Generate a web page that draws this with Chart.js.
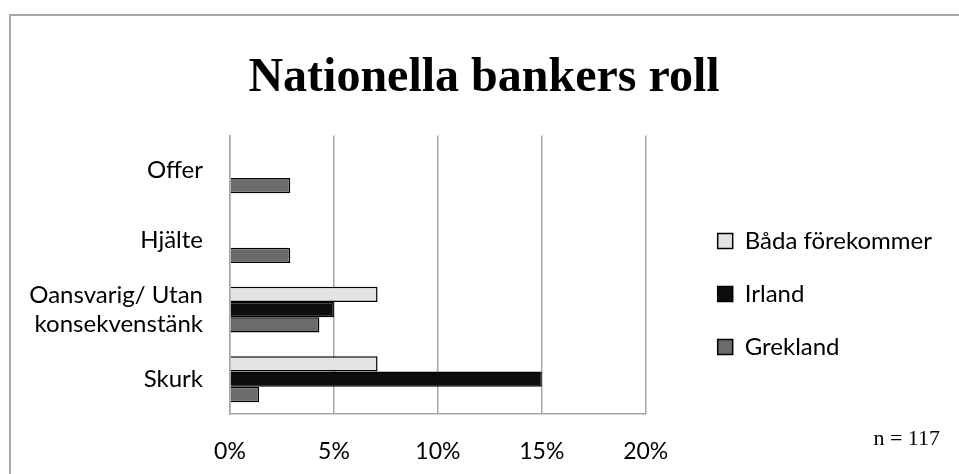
<!DOCTYPE html>
<html>
<head>
<meta charset="utf-8">
<script src="https://cdn.jsdelivr.net/npm/chart.js@4/dist/chart.umd.min.js"></script>
<style>
  body { margin: 0; background: #fff; }
  canvas { display: block; }
</style>
</head>
<body>
<canvas id="chart" width="959" height="474"></canvas>
<script>
const categories = ['Offer', 'Hjälte', ['Oansvarig/ Utan', 'konsekvenstänk'], 'Skurk'];
const seriesNames = ['Båda förekommer', 'Irland', 'Grekland'];
const badaValues = [0, 0, 7.1, 7.1];
const irlandValues = [0, 0, 5.0, 15.0];
const greklandValues = [2.9, 2.9, 4.3, 1.4];
const xTicks = [0, 5, 10, 15, 20];

// outer frame of the chart object and the "n = 117" note
const frame = {
    id: 'frame',
    afterDraw(chart) {
        const ctx = chart.ctx;
        ctx.save();
        ctx.strokeStyle = '#a6a6a6';
        ctx.lineWidth = 2;
        ctx.beginPath();
        ctx.moveTo(10, 480);
        ctx.lineTo(10, 15);
        ctx.lineTo(960, 15);
        ctx.stroke();
        ctx.fillStyle = '#000';
        ctx.font = '22px "Liberation Serif"';
        ctx.textAlign = 'right';
        ctx.textBaseline = 'alphabetic';
        ctx.fillText('n = 117', 940, 445);
        ctx.restore();
    }
};

function makeSet(label, data, color) {
    return {
        label: label,
        data: data,
        backgroundColor: color,
        borderColor: '#000',
        borderWidth: 1.5,
        borderSkipped: 'left',
        categoryPercentage: 0.66,
        barPercentage: 1.0
    };
}

new Chart(document.getElementById('chart').getContext('2d'), {
    type: 'bar',
    data: {
        labels: categories,
        datasets: [
            makeSet(seriesNames[0], badaValues, '#e3e3e3'),
            makeSet(seriesNames[1], irlandValues, '#0d0d0d'),
            makeSet(seriesNames[2], greklandValues, '#6b6b6b')
        ]
    },
    options: {
        indexAxis: 'y',
        responsive: false,
        animation: false,
        layout: { padding: { left: 26, right: 17, top: 0, bottom: 8 } },
        plugins: {
            title: {
                display: true,
                text: 'Nationella bankers roll',
                color: '#000',
                font: { family: '"Liberation Serif"', size: 48, weight: 'bold' },
                padding: { top: 50, bottom: 28 }
            },
            legend: {
                position: 'right',
                maxWidth: 400,
                // blank legend title only pushes the items down
                title: { display: true, text: '', font: { size: 10 }, padding: { top: 110, bottom: 0 } },
                labels: {
                    color: '#000',
                    font: { family: 'Lato', size: 24 },
                    boxWidth: 15,
                    boxHeight: 15,
                    padding: 29
                }
            },
            tooltip: { enabled: false }
        },
        scales: {
            x: {
                min: 0,
                max: 20,
                afterBuildTicks: axis => { axis.ticks = xTicks.map(v => ({ value: v })); },
                afterFit: axis => { axis.height = 52; },
                ticks: {
                    color: '#000',
                    font: { family: 'Lato', size: 23 },
                    padding: 24,
                    maxRotation: 0,
                    callback: v => v + '%'
                },
                grid: { color: '#a6a6a6', lineWidth: 1.5, drawTicks: false },
                border: { display: true, color: '#a6a6a6', width: 1.5 }
            },
            y: {
                afterFit: axis => {
                    axis.width = 230 - 26;
                    axis.paddingTop = 0;
                    axis.paddingBottom = 0;
                },
                ticks: {
                    color: '#000',
                    font: { family: 'Lato', size: 24 },
                    padding: 27
                },
                grid: { display: false, drawTicks: false },
                border: { color: '#a6a6a6', width: 1.5 }
            },
            // empty spacer between the plot and the legend
            gap: {
                axis: 'y',
                position: 'right',
                afterFit: axis => { axis.width = 43; },
                ticks: { display: false },
                grid: { display: false, drawTicks: false },
                border: { display: false }
            }
        }
    },
    plugins: [frame]
});
</script>
</body>
</html>
